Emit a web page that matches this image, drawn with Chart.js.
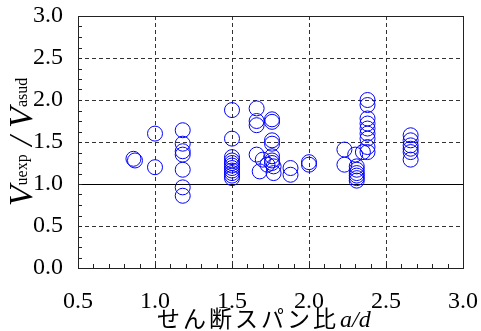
<!DOCTYPE html>
<html><head><meta charset="utf-8">
<script src="https://cdn.jsdelivr.net/npm/chart.js@4/dist/chart.umd.min.js"></script>
<style>html,body{margin:0;padding:0;background:#fff;}#wrap{width:481px;height:331px;}</style>
</head><body><div id="wrap"><canvas id="c" width="481" height="331"></canvas></div>
<script>
// せん断スパン比 a/d (x) and Vuexp/Vasud (y)
const spanRatio = [
  0.86, 0.87,
  1.00, 1.00,
  1.18, 1.18, 1.18, 1.18, 1.18, 1.18, 1.18,
  1.50, 1.50, 1.50, 1.50, 1.50, 1.50, 1.50, 1.50, 1.50, 1.50, 1.50,
  1.66, 1.66, 1.66, 1.66, 1.68, 1.70, 1.73,
  1.76, 1.76, 1.76, 1.76, 1.76, 1.76, 1.76, 1.77, 1.77,
  1.88, 1.88,
  2.00, 2.00,
  2.23, 2.23, 2.30,
  2.31, 2.31, 2.31, 2.31, 2.31, 2.31, 2.35,
  2.38, 2.38, 2.38, 2.38, 2.38, 2.38, 2.38, 2.38, 2.38,
  2.66, 2.66, 2.66, 2.66, 2.66, 2.66
];
const strengthRatio = [
  1.30, 1.28,
  1.60, 1.20,
  1.64, 1.48, 1.39, 1.35, 1.17, 0.96, 0.86,
  1.88, 1.54, 1.32, 1.28, 1.25, 1.22, 1.19, 1.16, 1.13, 1.10, 1.07,
  1.90, 1.75, 1.70, 1.35, 1.15, 1.29, 1.23,
  1.77, 1.74, 1.52, 1.48, 1.33, 1.28, 1.25, 1.21, 1.13,
  1.19, 1.11,
  1.26, 1.23,
  1.41, 1.23, 1.35,
  1.21, 1.17, 1.13, 1.10, 1.07, 1.04, 1.38,
  2.00, 1.94, 1.78, 1.72, 1.66, 1.60, 1.54, 1.44, 1.38,
  1.58, 1.52, 1.46, 1.42, 1.38, 1.29
];
const xTickValues = [0.5, 1.0, 1.5, 2.0, 2.5, 3.0];
const yTickValues = [0.0, 0.5, 1.0, 1.5, 2.0, 2.5, 3.0];
const referenceValue = 1.0;
const xTitleText = 'せん断スパン比';
const xTitleItalic = 'a/d';
const yTitleParts = [['V', 'main'], ['uexp', 'sub'], [' / ', 'main'], ['V', 'main'], ['asud', 'sub']];

const points = spanRatio.map((v, i) => ({ x: v, y: strengthRatio[i] }));
const serif = "'Liberation Serif', 'Times New Roman', serif";
Chart.defaults.font.family = serif;

const decor = {
  id: 'decor',
  beforeDraw(chart) {
    const { ctx, chartArea: a } = chart;
    ctx.save();
    ctx.fillStyle = '#000';
    ctx.textBaseline = 'alphabetic';
    ctx.textAlign = 'left';
    ctx.font = "23px 'Noto Sans CJK JP'";
    let xs = 157;
    for (const ch of xTitleText) {
      ctx.fillText(ch, xs, 327);
      xs += ctx.measureText(ch).width + 3;
    }
    ctx.font = "italic 24px " + serif;
    ctx.fillText(xTitleItalic, xs + 1, 327);
    const fonts = { main: "italic 34px " + serif, sub: "16px " + serif };
    let total = 0;
    yTitleParts.forEach(([t, k]) => { ctx.font = fonts[k]; total += ctx.measureText(t).width; });
    const cy = (a.top + a.bottom) / 2;
    ctx.translate(32, cy);
    ctx.rotate(-Math.PI / 2);
    let u = -total / 2;
    yTitleParts.forEach(([t, k]) => {
      ctx.font = fonts[k];
      ctx.fillText(t, u, k === 'sub' ? -5 : 0);
      u += ctx.measureText(t).width;
    });
    ctx.restore();
  },
  beforeDatasetsDraw(chart) {
    const { ctx, chartArea: a, scales: { x, y } } = chart;
    ctx.save();
    ctx.lineWidth = 1;
    const line = (x1, y1, x2, y2) => { ctx.beginPath(); ctx.moveTo(x1, y1); ctx.lineTo(x2, y2); ctx.stroke(); };
    ctx.strokeStyle = '#333';
    ctx.setLineDash([4, 3]);
    xTickValues.forEach(v => {
      if (v <= x.min || v >= x.max) return;
      const p = Math.round(x.getPixelForValue(v)) + 0.5;
      line(p, a.top, p, a.bottom);
    });
    yTickValues.forEach(v => {
      if (v <= y.min || v >= y.max || v === referenceValue) return;
      const p = Math.round(y.getPixelForValue(v)) + 0.5;
      line(a.left, p, a.right, p);
    });
    ctx.setLineDash([]);
    ctx.strokeStyle = '#000';
    const r = Math.round(y.getPixelForValue(referenceValue)) + 0.5;
    line(a.left, r, a.right, r);
    ctx.strokeStyle = '#222';
    for (let k = 0; k <= 25; k++) {
      const p = Math.round(x.getPixelForValue(x.min + k * 0.1)) + 0.5;
      line(p, a.bottom, p, a.bottom - 4);
    }
    for (let k = 0; k <= 24; k++) {
      const p = Math.round(y.getPixelForValue(y.min + k * 0.125)) + 0.5;
      line(a.left, p, a.left + 4, p);
    }
    ctx.strokeStyle = '#222';
    ctx.strokeRect(Math.round(a.left) + 0.5, Math.round(a.top) + 0.5, Math.round(a.right - a.left), Math.round(a.bottom - a.top));
    ctx.restore();
  }
};

new Chart(document.getElementById('c'), {
  type: 'scatter',
  data: {
    datasets: [{
      data: points,
      pointStyle: 'circle',
      pointRadius: 7.5,
      pointHoverRadius: 7.5,
      borderColor: '#0000ff',
      backgroundColor: 'rgba(0,0,0,0)',
      borderWidth: 1
    }]
  },
  options: {
    responsive: false,
    animation: false,
    devicePixelRatio: 1,
    layout: { padding: { top: 16, right: 18, left: 0, bottom: 0 } },
    plugins: { legend: { display: false }, tooltip: { enabled: false } },
    scales: {
      x: {
        type: 'linear', min: 0.5, max: 3.0,
        afterBuildTicks: s => { s.ticks = xTickValues.map(v => ({ value: v })); },
        afterFit: s => { s.height = 63; s.paddingLeft = 0; s.paddingRight = 0; },
        grid: { display: false },
        border: { display: false },
        ticks: { font: { family: serif, size: 24 }, color: '#000', padding: 11, maxRotation: 0,
          callback: v => Number(v).toFixed(1) }
      },
      y: {
        type: 'linear', min: 0, max: 3.0,
        afterBuildTicks: s => { s.ticks = yTickValues.map(v => ({ value: v })); },
        afterFit: s => { s.width = 78; s.paddingTop = 0; s.paddingBottom = 0; },
        grid: { display: false },
        border: { display: false },
        ticks: { font: { family: serif, size: 24 }, color: '#000', padding: 7,
          callback: v => Number(v).toFixed(1) }
      }
    }
  },
  plugins: [decor]
});
</script></body></html>
